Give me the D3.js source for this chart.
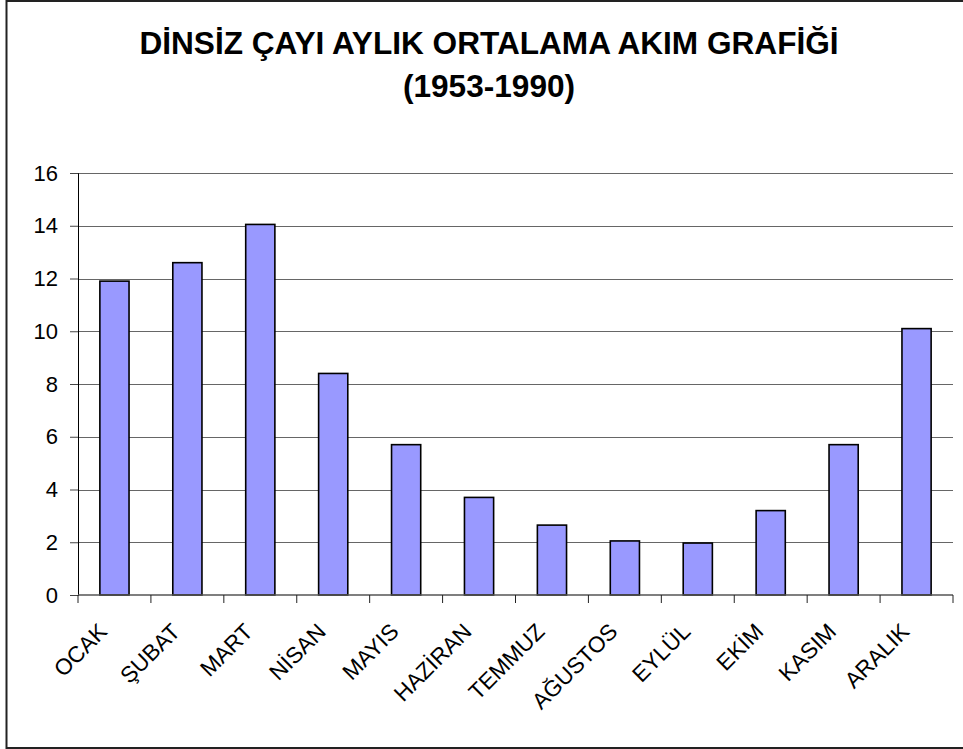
<!DOCTYPE html>
<html>
<head>
<meta charset="utf-8">
<script src="https://cdn.jsdelivr.net/npm/d3@7"></script>
<style>
  body { margin: 0; background: #fff; }
  svg { display: block; font-family: Arial, "Liberation Sans", sans-serif; }
</style>
</head>
<body>
<div id="grafik"></div>
<script>
// aylar ve ortalama akım değerleri (m3/s)
const aylar = ["OCAK", "ŞUBAT", "MART", "NİSAN", "MAYIS", "HAZİRAN", "TEMMUZ", "AĞUSTOS", "EYLÜL", "EKİM", "KASIM", "ARALIK"];
const akim = [11.9, 12.6, 14.05, 8.4, 5.7, 3.7, 2.65, 2.05, 1.97, 3.2, 5.7, 10.1];
const yTikler = [0, 2, 4, 6, 8, 10, 12, 14, 16];
const baslik = ["DİNSİZ ÇAYI AYLIK ORTALAMA AKIM GRAFİĞİ", "(1953-1990)"];

const width = 963, height = 749;
const m = { left: 78, right: 10, top: 173, bottom: 154 };

const svg = d3.select("#grafik").append("svg")
  .attr("width", width)
  .attr("height", height);

// dış çerçeve
svg.append("rect")
  .attr("x", 6.5).attr("y", 1)
  .attr("width", 970).attr("height", 747)
  .attr("fill", "none")
  .attr("stroke", "#222")
  .attr("stroke-width", 2);

const x = d3.scaleBand()
  .domain(aylar)
  .range([m.left, width - m.right])
  .paddingInner(0.6)
  .paddingOuter(0.3);

const y = d3.scaleLinear()
  .domain([0, 16])
  .range([height - m.bottom, m.top]);

// yatay kılavuz çizgileri
svg.append("g")
  .selectAll("line")
  .data(yTikler.filter(d => d > 0))
  .enter()
  .append("line")
  .attr("x1", m.left)
  .attr("x2", width - m.right)
  .attr("y1", d => Math.round(y(d)) + 0.5)
  .attr("y2", d => Math.round(y(d)) + 0.5)
  .attr("stroke", "#666")
  .attr("stroke-width", 1);

// y ekseni
const yEksen = svg.append("g")
  .attr("transform", `translate(${m.left},0)`)
  .call(d3.axisLeft(y).tickValues(yTikler).tickSize(8).tickPadding(12));
yEksen.select(".domain").attr("stroke", "#000");
yEksen.selectAll(".tick line").attr("stroke", "#444");
yEksen.selectAll("text")
  .attr("font-size", 22)
  .attr("font-family", "Arial, 'Liberation Sans', sans-serif")
  .attr("fill", "#000");

// çubuklar
svg.append("g")
  .selectAll("rect")
  .data(akim)
  .enter()
  .append("rect")
  .attr("x", (d, i) => x(aylar[i]))
  .attr("y", d => y(d))
  .attr("width", x.bandwidth())
  .attr("height", d => y(0) - y(d))
  .attr("fill", "#9999FF")
  .attr("stroke", "#000")
  .attr("stroke-width", 1.6);

// x ekseni
const xTikler = d3.range(aylar.length + 1).map(i => m.left + i * (width - m.left - m.right) / aylar.length);
const xg = svg.append("g");
xg.append("line")
  .attr("x1", m.left).attr("x2", width - m.right)
  .attr("y1", y(0)).attr("y2", y(0))
  .attr("stroke", "#555").attr("stroke-width", 1.5);
xg.selectAll(".tik")
  .data(xTikler)
  .enter()
  .append("line")
  .attr("class", "tik")
  .attr("x1", d => d).attr("x2", d => d)
  .attr("y1", y(0)).attr("y2", y(0) + 8)
  .attr("stroke", "#222");

xg.selectAll("text")
  .data(aylar)
  .enter()
  .append("text")
  .attr("transform", d => `translate(${x(d) + x.bandwidth() / 2 - 6},${y(0) + 38}) rotate(-45)`)
  .attr("text-anchor", "end")
  .attr("font-size", 22.5)
  .attr("fill", "#000")
  .text(d => d);

// başlık
svg.append("g")
  .selectAll("text")
  .data(baslik)
  .enter()
  .append("text")
  .attr("x", 489)
  .attr("y", (d, i) => 54 + i * 43)
  .attr("text-anchor", "middle")
  .attr("font-size", 31.6)
  .attr("font-weight", "bold")
  .attr("fill", "#000")
  .text(d => d);
</script>
</body>
</html>
